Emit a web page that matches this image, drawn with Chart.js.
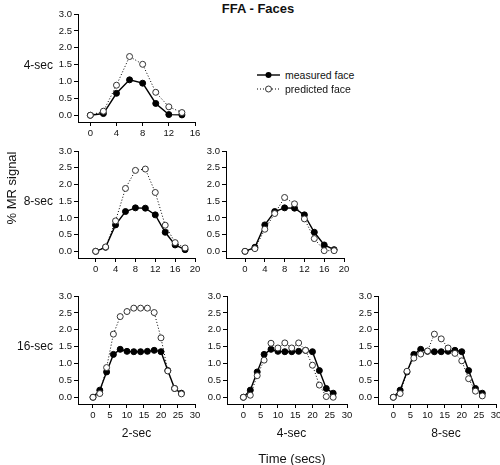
<!DOCTYPE html>
<html>
<head>
<meta charset="utf-8">
<script src="https://cdn.jsdelivr.net/npm/chart.js@4.4.1/dist/chart.umd.min.js"></script>
<style>
  html, body { margin:0; padding:0; background:#fff; overflow:hidden; }
  body { width:500px; height:465px; position:relative; font-family:"Liberation Sans", Arial, sans-serif; color:#111; }
  canvas { position:absolute; }
  .lbl { position:absolute; white-space:nowrap; line-height:1; }
</style>
</head>
<body>
<script>
// ---------- data ----------
const chartTitle = 'FFA - Faces';
const rowLabels = ['4-sec', '8-sec', '16-sec'];
const colLabels = ['2-sec', '4-sec', '8-sec'];
const yAxisTitle = '% MR signal';
const xAxisTitle = 'Time (secs)';
const seriesNames = ['measured face', 'predicted face'];

const yTicks = [0, 0.5, 1.0, 1.5, 2.0, 2.5, 3.0];
const xTicks16 = [0, 4, 8, 12, 16];
const xTicks20 = [0, 4, 8, 12, 16, 20];
const xTicks30 = [0, 5, 10, 15, 20, 25, 30];

const time4 = [0, 2, 4, 6, 8, 10, 12, 14];
const time8 = [0, 2, 4, 6, 8, 10, 12, 14, 16, 18];
const time16 = [0, 2, 4, 6, 8, 10, 12, 14, 16, 18, 20, 22, 24, 26];

// 4-sec stimulus, 2-sec model
const measured4 = [0.00, 0.05, 0.65, 1.05, 0.95, 0.35, 0.02, 0.01];
const predicted4_2s = [0.00, 0.12, 0.89, 1.74, 1.51, 0.68, 0.25, 0.08];
// 8-sec stimulus
const measured8 = [0.00, 0.12, 0.79, 1.19, 1.30, 1.29, 1.09, 0.57, 0.19, 0.05];
const predicted8_2s = [0.00, 0.13, 0.91, 1.88, 2.42, 2.46, 1.76, 0.78, 0.26, 0.10];
const predicted8_4s = [0.00, 0.08, 0.66, 1.13, 1.61, 1.42, 0.97, 0.38, 0.02, 0.02];
// 16-sec stimulus
const measured16 = [0.00, 0.21, 0.75, 1.27, 1.42, 1.36, 1.35, 1.35, 1.36, 1.39, 1.35, 0.79, 0.26, 0.12];
const predicted16_2s = [0.00, 0.11, 0.88, 1.87, 2.39, 2.54, 2.64, 2.64, 2.64, 2.51, 1.76, 0.78, 0.26, 0.10];
const predicted16_4s = [0.00, 0.06, 0.64, 1.10, 1.60, 1.46, 1.61, 1.46, 1.61, 1.39, 0.95, 0.36, 0.02, 0.00];
const predicted16_8s = [0.00, 0.11, 0.77, 1.16, 1.28, 1.37, 1.87, 1.73, 1.46, 1.30, 1.08, 0.55, 0.18, 0.04];

// ---------- layout (pixel geometry only) ----------
const YW = 30, XH = 22, PT = 8, PR = 8;
const panels = [
  { t: time4,  m: measured4,  p: predicted4_2s,  xt: xTicks16, xmin: -1.88, x0: 78,  x1: 195,   yTop: 14.3,  yBot: 122.3 },
  { t: time8,  m: measured8,  p: predicted8_2s,  xt: xTicks20, xmin: -3.56, x0: 78,  x1: 195,   yTop: 150.7, yBot: 258 },
  { t: time8,  m: measured8,  p: predicted8_4s,  xt: xTicks20, xmin: -3.84, x0: 226, x1: 344,   yTop: 150.7, yBot: 258 },
  { t: time16, m: measured16, p: predicted16_2s, xt: xTicks30, xmin: -4.41, x0: 78,  x1: 195,   yTop: 296,   yBot: 404 },
  { t: time16, m: measured16, p: predicted16_4s, xt: xTicks30, xmin: -4.74, x0: 227, x1: 346.5, yTop: 296,   yBot: 404 },
  { t: time16, m: measured16, p: predicted16_8s, xt: xTicks30, xmin: -4.47, x0: 378, x1: 496,   yTop: 296,   yBot: 404 }
];

const tickFont = { family: '"Liberation Sans", Arial, sans-serif', size: 9.5 };

function makePanel(cfg, idx) {
  const c = document.createElement('canvas');
  const w = Math.round(YW + (cfg.x1 - cfg.x0) + PR);
  const h = Math.round(PT + (cfg.yBot - cfg.yTop) + XH);
  c.width = w; c.height = h;
  c.style.width = w + 'px'; c.style.height = h + 'px';
  c.style.left = Math.round(cfg.x0 - YW) + 'px';
  c.style.top = Math.round(cfg.yTop - PT) + 'px';
  document.body.appendChild(c);
  const xmax = cfg.xt[cfg.xt.length - 1];
  new Chart(c, {
    type: 'line',
    data: {
      datasets: [
        {
          label: seriesNames[1],
          data: cfg.t.map((x, i) => ({ x: x, y: cfg.p[i] })),
          borderColor: '#000', borderWidth: 1, borderDash: [1, 2],
          pointRadius: 3, pointBackgroundColor: '#fff', pointBorderColor: '#333', pointBorderWidth: 1,
          tension: 0, fill: false
        },
        {
          label: seriesNames[0],
          data: cfg.t.map((x, i) => ({ x: x, y: cfg.m[i] })),
          borderColor: '#000', borderWidth: 1.4,
          pointRadius: 3, pointBackgroundColor: '#000', pointBorderColor: '#000', pointBorderWidth: 1,
          tension: 0, fill: false
        }
      ]
    },
    options: {
      animation: false, responsive: false, devicePixelRatio: 1,
      layout: { padding: { top: PT, right: PR, left: 0, bottom: 0 } },
      plugins: { legend: { display: false }, tooltip: { enabled: false } },
      scales: {
        x: {
          type: 'linear', min: cfg.xmin, max: xmax,
          afterBuildTicks: s => { s.ticks = cfg.xt.map(v => ({ value: v })); },
          afterFit: s => { s.height = XH; },
          grid: { drawOnChartArea: false, drawTicks: true, tickLength: 4, color: '#000', lineWidth: 1 },
          border: { display: true, color: '#000', width: 1 },
          ticks: { font: tickFont, color: '#111', padding: 2, maxRotation: 0, autoSkip: false,
                   callback: v => String(v) }
        },
        y: {
          type: 'linear', min: -0.2, max: 3.0,
          afterBuildTicks: s => { s.ticks = yTicks.map(v => ({ value: v })); },
          afterFit: s => { s.width = YW; },
          grid: { drawOnChartArea: false, drawTicks: true, tickLength: 4, color: '#000', lineWidth: 1 },
          border: { display: true, color: '#000', width: 1 },
          ticks: { font: tickFont, color: '#111', padding: 2, autoSkip: false,
                   callback: v => Number(v).toFixed(1) }
        }
      }
    }
  });
}
panels.forEach(makePanel);

// ---------- text ----------
function addText(txt, x, y, opts) {
  const d = document.createElement('div');
  d.className = 'lbl';
  d.textContent = txt;
  d.style.fontSize = (opts.size || 12) + 'px';
  if (opts.bold) d.style.fontWeight = 'bold';
  d.style.left = x + 'px';
  d.style.top = y + 'px';
  let tf = opts.align === 'right' ? 'translate(-100%,-50%)' : opts.align === 'left' ? 'translate(0,-50%)' : 'translate(-50%,-50%)';
  if (opts.rotate) tf += ' rotate(' + opts.rotate + 'deg)';
  d.style.transform = tf;
  document.body.appendChild(d);
  return d;
}
addText(chartTitle, 258, 8, { size: 13, bold: true });
const rowY = [64.5, 201, 346];
rowLabels.forEach((l, i) => addText(l, 53, rowY[i], { size: 12, align: 'right' }));
const colX = [136.5, 291.5, 446];
colLabels.forEach((l, i) => addText(l, colX[i], 433, { size: 12 }));
addText(xAxisTitle, 292, 458, { size: 13 });
addText(yAxisTitle, 11, 188, { size: 13, rotate: -90 });

// legend
const lg = document.createElement('div');
lg.style.position = 'absolute'; lg.style.left = '256px'; lg.style.top = '68px';
lg.innerHTML =
  '<svg width="26" height="30" style="position:absolute;left:0;top:0">' +
  '<line x1="1" y1="7" x2="24" y2="7" stroke="#000" stroke-width="1.4"/>' +
  '<circle cx="12.5" cy="7" r="3" fill="#000"/>' +
  '<line x1="1" y1="21" x2="24" y2="21" stroke="#000" stroke-width="1" stroke-dasharray="1 2"/>' +
  '<circle cx="12.5" cy="21" r="3" fill="#fff" stroke="#333" stroke-width="1"/>' +
  '</svg>';
document.body.appendChild(lg);
addText(seriesNames[0], 285, 75, { size: 10.5, align: 'left' });
addText(seriesNames[1], 285, 89, { size: 10.5, align: 'left' });
</script>
</body>
</html>
